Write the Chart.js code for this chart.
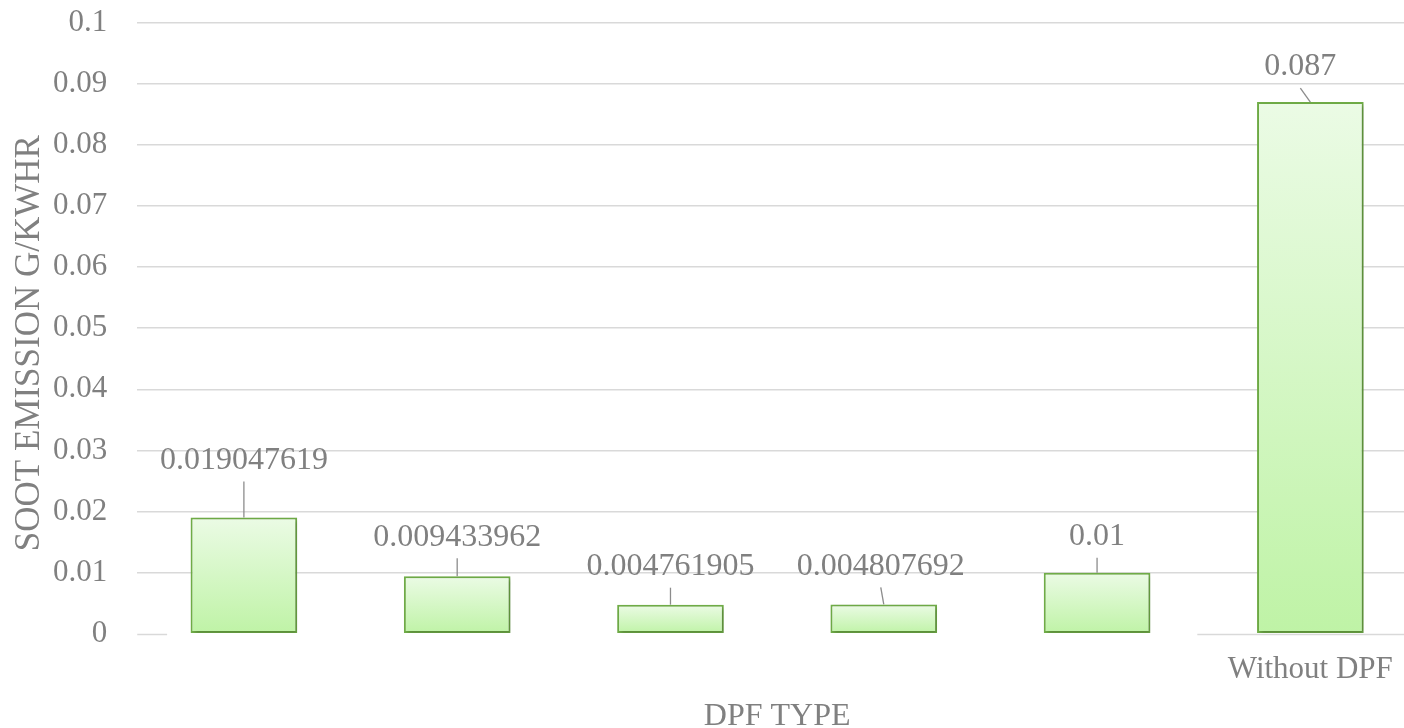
<!DOCTYPE html>
<html>
<head>
<meta charset="utf-8">
<script src="https://cdn.jsdelivr.net/npm/chart.js@4/dist/chart.umd.min.js"></script>
<style>
  html, body { margin: 0; padding: 0; background: #fff; overflow: hidden; }
  #wrap { width: 1417px; height: 728px; position: relative; }
</style>
</head>
<body>
<div id="wrap"><canvas id="chart"></canvas></div>
<script>
// chart data
const categories = ['', '', '', '', '', 'Without DPF'];
const sootEmission = [0.019047619, 0.009433962, 0.004761905, 0.004807692, 0.01, 0.087];
const yTicks = [0, 0.01, 0.02, 0.03, 0.04, 0.05, 0.06, 0.07, 0.08, 0.09, 0.1];
const yTitle = 'SOOT EMISSION G/KWHR';
const xTitle = 'DPF TYPE';

// where the data labels sit above each bar (px), as dragged in the original
const labelLift = [57, 39, 38, 38, 36, 35];
const labelShift = [0, 0, 0, -3, 0, -10];

const FONT = '"Liberation Serif", "Times New Roman", serif';
const GREY = '#808080';
const GRID = '#d9d9d9';

// per-bar vertical gradient, light at top
function barFill(ctx) {
  const chart = ctx.chart;
  if (!chart.chartArea || !chart.scales.y) return '#d4f6c4';
  const y = chart.scales.y;
  const top = y.getPixelForValue(sootEmission[ctx.dataIndex]);
  const bottom = y.getPixelForValue(0);
  if (!isFinite(top) || bottom - top < 1) return '#d4f6c4';
  const g = chart.ctx.createLinearGradient(0, top, 0, bottom);
  g.addColorStop(0, '#ebfbe5');
  g.addColorStop(1, '#bff3a6');
  return g;
}

// zero line only shows at both ends in the original (label box covers the middle)
const zeroLinePlugin = {
  id: 'zeroLine',
  beforeDatasetsDraw(chart) {
    const { ctx, chartArea, scales } = chart;
    const catW = scales.x.getPixelForValue(1) - scales.x.getPixelForValue(0);
    const y0 = Math.round(scales.y.getPixelForValue(0)) + 0.5;
    const gapStart = scales.x.getPixelForValue(0) - 0.36 * catW;
    const gapEnd = scales.x.getPixelForValue(categories.length - 1) - 0.53 * catW;
    ctx.save();
    ctx.strokeStyle = GRID;
    ctx.lineWidth = 1.5;
    ctx.beginPath();
    ctx.moveTo(chartArea.left, y0);
    ctx.lineTo(gapStart, y0);
    ctx.moveTo(gapEnd, y0);
    ctx.lineTo(chartArea.right, y0);
    ctx.stroke();
    ctx.restore();
  }
};

// soft shadow under the bars
const shadowPlugin = {
  id: 'barShadow',
  beforeDatasetsDraw(chart) {
    const c = chart.ctx;
    c.save();
    c.shadowColor = 'rgba(0,0,0,0.22)';
    c.shadowBlur = 4;
    c.shadowOffsetX = 2;
    c.shadowOffsetY = 2;
  },
  afterDatasetsDraw(chart) {
    chart.ctx.restore();
  }
};

// value labels with leader lines, plus the vertical axis title
const labelPlugin = {
  id: 'leaderLabels',
  afterDraw(chart) {
    const c = chart.ctx;
    const meta = chart.getDatasetMeta(0);
    c.save();
    c.font = '32px ' + FONT;
    c.fillStyle = GREY;
    c.strokeStyle = '#8c8c8c';
    c.lineWidth = 1.3;
    c.textAlign = 'center';
    c.textBaseline = 'middle';
    meta.data.forEach((bar, i) => {
      const lx = bar.x + labelShift[i];
      const ly = bar.y - labelLift[i];
      c.beginPath();
      c.moveTo(lx, ly + 21);
      c.lineTo(bar.x, bar.y);
      c.stroke();
      c.fillText(String(sootEmission[i]), lx, ly);
    });

    const area = chart.chartArea;
    c.font = '35px ' + FONT;
    c.translate(30, (area.top + area.bottom) / 2 + 15);
    c.rotate(-Math.PI / 2);
    c.fillText(yTitle, 0, 0);
    c.restore();
  }
};

new Chart(document.getElementById('chart'), {
  type: 'bar',
  data: {
    labels: categories,
    datasets: [{
      data: sootEmission,
      backgroundColor: barFill,
      borderColor: '#70ad47',
      borderWidth: 2,
      borderSkipped: false,
      categoryPercentage: 1,
      barPercentage: 0.5
    }]
  },
  options: {
    responsive: true,
    maintainAspectRatio: false,
    animation: false,
    layout: { padding: { left: 49, top: 0, right: 0, bottom: 0 } },
    plugins: {
      legend: { display: false },
      tooltip: { enabled: false }
    },
    scales: {
      x: {
        grid: { display: false, drawTicks: false },
        border: { display: false },
        ticks: { color: GREY, font: { family: FONT, size: 31 }, padding: 17, maxRotation: 0, autoSkip: false },
        title: { display: true, text: xTitle, color: GREY, font: { family: FONT, size: 32, lineHeight: 1 }, padding: { top: -4, bottom: -5 } }
      },
      y: {
        min: 0,
        max: 0.1,
        afterBuildTicks: (axis) => { axis.ticks = yTicks.map(v => ({ value: v })); },
        grid: {
          color: (ctx) => (ctx.tick && ctx.tick.value === 0 ? 'rgba(0,0,0,0)' : GRID),
          lineWidth: 1.5,
          drawTicks: true,
          tickLength: 26,
          tickColor: 'rgba(0,0,0,0)'
        },
        border: { display: false },
        ticks: { color: GREY, font: { family: FONT, size: 31 }, padding: 4, callback: v => String(v) }
      }
    }
  },
  plugins: [zeroLinePlugin, shadowPlugin, labelPlugin]
});
</script>
</body>
</html>
